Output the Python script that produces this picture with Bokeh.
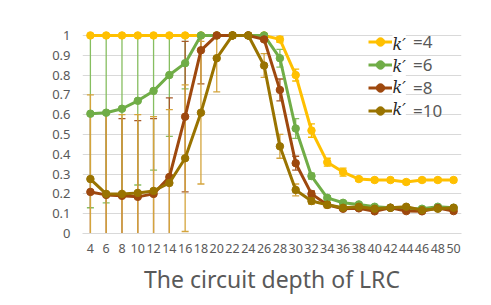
import numpy as np
from bokeh.plotting import figure
from bokeh.models import (Range1d, FactorRange, FixedTicker, NumeralTickFormatter,
                          Legend, LegendItem, Label)
from bokeh.embed import file_html
from bokeh.resources import INLINE

# ---- data ----
depth = ["4", "6", "8", "10", "12", "14", "16", "18", "20", "22", "24", "26",
         "28", "30", "32", "34", "36", "38", "40", "42", "44", "46", "48", "50"]

k4 = [1, 1, 1, 1, 1, 1, 1, 1, 1, 1, 1, 1,
      0.98, 0.80, 0.52, 0.36, 0.31, 0.275, 0.27, 0.27, 0.26, 0.27, 0.27, 0.27]
k6 = [0.605, 0.61, 0.63, 0.67, 0.72, 0.80, 0.86, 1, 1, 1, 1, 1,
      0.885, 0.53, 0.29, 0.18, 0.155, 0.147, 0.135, 0.13, 0.125, 0.125, 0.135, 0.13]
k8 = [0.21, 0.195, 0.19, 0.185, 0.20, 0.285, 0.59, 0.925, 1, 1, 1, 0.98,
      0.725, 0.355, 0.20, 0.145, 0.125, 0.127, 0.112, 0.13, 0.113, 0.112, 0.128, 0.113]
k10 = [0.275, 0.20, 0.20, 0.205, 0.215, 0.255, 0.38, 0.61, 0.885, 1, 1, 0.848,
       0.44, 0.22, 0.164, 0.145, 0.13, 0.135, 0.125, 0.13, 0.135, 0.118, 0.125, 0.13]

e4 = [0, 0, 0, 0, 0, 0, 0, 0, 0, 0, 0, 0,
      0.015, 0.03, 0.034, 0.02, 0.02, 0.01, 0.01, 0.01, 0.01, 0.01, 0.01, 0.01]
e6 = [0.475, 0.455, 0.44, 0.425, 0.40, 0.31, 0.13, 0, 0, 0, 0, 0.005,
      0.045, 0.05, 0.015, 0.01, 0.008, 0.008, 0.008, 0.008, 0.008, 0.008, 0.008, 0.008]
e8 = [0.39, 0.41, 0.39, 0.385, 0.38, 0.40, 0.38, 0.17, 0, 0, 0, 0.01,
      0.055, 0.035, 0.015, 0.01, 0.008, 0.008, 0.008, 0.008, 0.008, 0.008, 0.008, 0.008]
e10 = [0.425, 0.41, 0.40, 0.395, 0.375, 0.37, 0.37, 0.36, 0.17, 0, 0, 0.06,
       0.06, 0.03, 0.015, 0.015, 0.008, 0.008, 0.008, 0.008, 0.008, 0.008, 0.008, 0.008]

legend_labels = ["=4", "=6", "=8", "=10"]
y_ticks = [0, 0.1, 0.2, 0.3, 0.4, 0.5, 0.6, 0.7, 0.8, 0.9, 1]

series = [
    (k4, e4, "#FFC000", "#F5B800", legend_labels[0]),
    (k6, e6, "#70AD47", "#86BE60", legend_labels[1]),
    (k8, e8, "#9E480E", "#A65A2A", legend_labels[2]),
    (k10, e10, "#997300", "#D4A43C", legend_labels[3]),
]

GRAY = "#595959"

p = figure(x_range=FactorRange(factors=depth, range_padding=0),
           y_range=Range1d(0, 1.03),
           frame_width=379, frame_height=204,
           min_border_left=82, min_border_right=30,
           min_border_top=29, min_border_bottom=64,
           output_backend="svg", toolbar_location=None)
p.outline_line_color = None
p.background_fill_color = "white"
p.border_fill_color = "white"

# axes
p.yaxis.ticker = FixedTicker(ticks=y_ticks)
p.yaxis.formatter = NumeralTickFormatter(format="0.[0]")
p.yaxis.axis_line_color = None
p.yaxis.major_tick_line_color = None
p.yaxis.minor_tick_line_color = None
p.yaxis.major_tick_out = 0
p.yaxis.major_label_standoff = 12
p.yaxis.major_label_text_font = "Noto Sans"
p.yaxis.major_label_text_font_size = "13px"
p.yaxis.major_label_text_color = GRAY

p.xaxis.axis_line_color = "#D9D9D9"
p.xaxis.major_tick_line_color = None
p.xaxis.minor_tick_line_color = None
p.xaxis.major_tick_out = 0
p.xaxis.major_label_standoff = 10
p.xaxis.major_label_text_font = "Noto Sans"
p.xaxis.major_label_text_font_size = "12.5px"
p.xaxis.major_label_text_color = GRAY
p.xaxis.axis_label = "The circuit depth of LRC"
p.xaxis.axis_label_text_font = "Noto Sans"
p.xaxis.axis_label_text_font_size = "23px"
p.xaxis.axis_label_text_font_style = "normal"
p.xaxis.axis_label_text_color = GRAY
p.xaxis.axis_label_standoff = 7

p.xgrid.grid_line_color = None
p.ygrid.ticker = FixedTicker(ticks=y_ticks)
p.ygrid.grid_line_color = "#D9D9D9"
p.ygrid.grid_line_width = 1

# error bars
for vals, errs, col, ecol, lab in series:
    xs, lo, hi, cx_up, cy_up, cx_lo, cy_lo = [], [], [], [], [], [], []
    for d, v, e in zip(depth, vals, errs):
        if e <= 0:
            continue
        xs.append(d)
        lo.append(max(v - e, 0))
        hi.append(min(v + e, 1))
        if v + e < 1:
            cx_up.append(d); cy_up.append(v + e)
        if v - e > 0:
            cx_lo.append(d); cy_lo.append(v - e)
    p.segment(x0=xs, y0=lo, x1=xs, y1=hi, line_color=ecol, line_width=1.3)
    p.scatter(x=cx_up + cx_lo, y=cy_up + cy_lo, marker="dash", size=7,
              line_color=ecol, line_width=1.3)

# lines and markers
items = []
for vals, errs, col, ecol, lab in series:
    l = p.line(x=depth, y=vals, line_color=col, line_width=3)
    s = p.scatter(x=depth, y=vals, size=7.5, fill_color=col, line_color=col)
    items.append(LegendItem(label=lab, renderers=[l, s]))

legend = Legend(items=items, location=(286, 111), padding=0, spacing=-1,
                glyph_width=24, glyph_height=21, label_height=21,
                label_standoff=21, border_line_alpha=0, background_fill_alpha=0,
                label_text_font="Noto Sans", label_text_font_size="17px",
                label_text_color=GRAY)
p.add_layout(legend)

# italic k' in front of each legend label
for yy in [189, 167, 146, 124]:
    p.add_layout(Label(x=310, y=yy, x_units="screen", y_units="screen", text="k′",
                       text_font="DejaVu Serif", text_font_style="italic",
                       text_font_size="16px", text_color="#262626",
                       text_baseline="middle", text_align="left",
                       background_fill_color="white"))

# y-axis title P_RC (rotated)
p.add_layout(Label(x=-42, y=95, x_units="screen", y_units="screen", text="P",
                   angle=np.pi / 2, text_align="center", text_baseline="alphabetic",
                   text_font="DejaVu Serif", text_font_style="italic",
                   text_font_size="25px", text_color="#262626"))
p.add_layout(Label(x=-41, y=112, x_units="screen", y_units="screen", text="RC",
                   angle=np.pi / 2, text_align="center", text_baseline="alphabetic",
                   text_font="DejaVu Serif", text_font_style="italic",
                   text_font_size="15px", text_color="#262626"))

open("out.html", "w").write(file_html(p, INLINE))
